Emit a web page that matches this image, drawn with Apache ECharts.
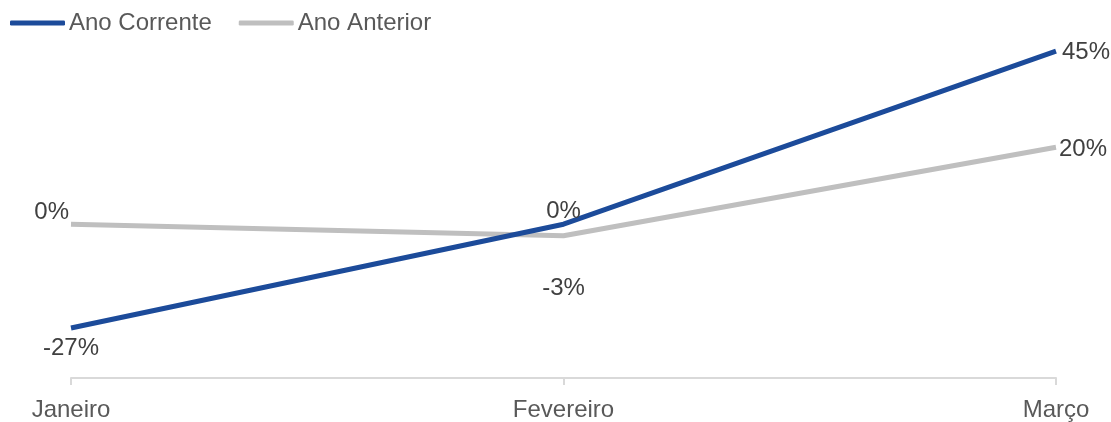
<!DOCTYPE html>
<html>
<head>
<meta charset="utf-8">
<script src="https://cdn.jsdelivr.net/npm/echarts@6/dist/echarts.min.js"></script>
<style>
  html, body { margin: 0; padding: 0; background: #ffffff; }
  #chart { width: 1111px; height: 422px; }
</style>
</head>
<body>
<div id="chart"></div>
<script>
// Monthly variation, in percent
const months = ['Janeiro', 'Fevereiro', 'Março'];
const anoCorrente = [-27, 0, 45];
const anoAnterior = [0, -3, 20];

const FONT = '"Liberation Sans", Arial, sans-serif';
const BLUE = '#1c4b9a';
const GREY = '#bfbfbf';

// Per-point label placement for each series
const corrLabelPos = [
  { position: 'bottom', offset: [0, 4] },
  { position: 'top', offset: [0, 3] },
  { position: 'right', offset: [2, 1] }
];
const antLabelPos = [
  { position: 'left', offset: [2, -12] },
  { position: 'bottom', offset: [0, 37] },
  { position: 'right', offset: [-1, 2] }
];

function buildData(values, placements) {
  return values.map((v, i) => ({
    value: v,
    label: { position: placements[i].position, offset: placements[i].offset }
  }));
}

const chart = echarts.init(document.getElementById('chart'), null, { renderer: 'canvas' });

const labelStyle = {
  show: true,
  formatter: '{c}%',
  color: '#404040',
  fontSize: 24,
  fontFamily: FONT,
  distance: 4
};

chart.setOption({
  animation: false,
  textStyle: { fontFamily: FONT },
  legend: {
    left: 10,
    top: 11,
    padding: 0,
    itemWidth: 55,
    itemHeight: 5,
    itemGap: 27,
    textStyle: { fontFamily: FONT, fontSize: 24, color: '#595959', padding: [0, 0, 0, -1] },
    icon: 'roundRect',
    data: [
      { name: 'Ano Corrente', itemStyle: { color: BLUE } },
      { name: 'Ano Anterior', itemStyle: { color: GREY } }
    ]
  },
  grid: { left: 71, right: 55, top: 32, bottom: 39, containLabel: false },
  xAxis: {
    type: 'category',
    data: months,
    boundaryGap: false,
    axisLine: { onZero: false, lineStyle: { color: '#d9d9d9', width: 2 } },
    axisTick: { show: true, alignWithLabel: true, length: 7, lineStyle: { color: '#d9d9d9', width: 2 } },
    axisLabel: { color: '#595959', fontSize: 24, fontFamily: FONT, margin: 20 },
    splitLine: { show: false }
  },
  yAxis: {
    type: 'value',
    min: -40,
    max: 50,
    show: false
  },
  series: [
    {
      name: 'Ano Corrente',
      type: 'line',
      data: buildData(anoCorrente, corrLabelPos),
      symbol: 'circle',
      symbolSize: 0,
      showSymbol: true,
      lineStyle: { color: BLUE, width: 5, cap: 'butt' },
      itemStyle: { color: BLUE },
      label: labelStyle,
      z: 3
    },
    {
      name: 'Ano Anterior',
      type: 'line',
      data: buildData(anoAnterior, antLabelPos),
      symbol: 'circle',
      symbolSize: 0,
      showSymbol: true,
      lineStyle: { color: GREY, width: 5, cap: 'butt' },
      itemStyle: { color: GREY },
      label: labelStyle,
      z: 2
    }
  ]
});
</script>
</body>
</html>
